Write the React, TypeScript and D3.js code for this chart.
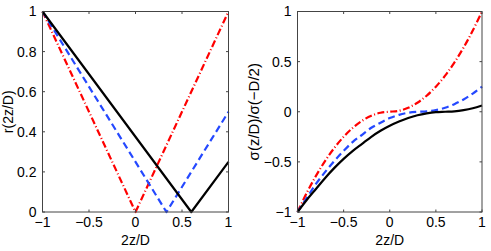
import React from "react";
import * as d3 from "d3";

// ---------- data ----------
const xTicks = [-1, -0.5, 0, 0.5, 1];
const leftYTicks = [0, 0.2, 0.4, 0.6, 0.8, 1];
const rightYTicks = [-1, -0.5, 0, 0.5, 1];

// left panel: r(2z/D), V-shaped curves (x, y vertices)
const leftBlackX = [-1, 0.6, 1];
const leftBlackY = [1, 0, 0.25];
const leftBlueX = [-1, 0.333, 1];
const leftBlueY = [1, 0, 0.5];
const leftRedX = [-1, 0, 1];
const leftRedY = [1, 0, 1];

// right panel: sigma(z/D)/sigma(-D/2), sampled
const rightX = [-1, -0.9, -0.8, -0.7, -0.6, -0.5, -0.4, -0.3, -0.2, -0.1, 0, 0.1, 0.2, 0.3, 0.4, 0.5, 0.6, 0.7, 0.8, 0.9, 1];
const rightBlack = [-1, -0.88, -0.77, -0.66, -0.56, -0.47, -0.39, -0.32, -0.25, -0.19, -0.14, -0.098, -0.063, -0.035, -0.016, -0.004, 0, 0.004, 0.016, 0.035, 0.063];
const rightBlue = [-1, -0.86, -0.72, -0.6, -0.49, -0.39, -0.3, -0.23, -0.16, -0.11, -0.063, -0.031, -0.01, -0.001, 0.003, 0.016, 0.04, 0.076, 0.123, 0.181, 0.25];
const rightRed = [-1, -0.81, -0.64, -0.49, -0.36, -0.25, -0.16, -0.09, -0.04, -0.01, 0, 0.01, 0.04, 0.09, 0.16, 0.25, 0.36, 0.49, 0.64, 0.81, 1];

const FONT = "'Liberation Sans', Arial, Helvetica, sans-serif";
const BLACK = "#000";
const BLUE = "#2448ff";
const RED = "#ff0000";

type Series = { xs: number[]; ys: number[]; color: string; dash?: string; curve: boolean };

const fmt = (v: number) => String(v).replace("-", "\u2212");

function Panel(props: {
  left: number;
  right: number;
  top: number;
  bottom: number;
  yDomain: [number, number];
  yTicks: number[];
  yLabel: string;
  yLabelX: number;
  yLabelSize: number;
  series: Series[];
}) {
  const { left, right, top, bottom, yDomain, yTicks, yLabel, yLabelX, yLabelSize, series } = props;
  const x = d3.scaleLinear().domain([-1, 1]).range([left, right]);
  const y = d3.scaleLinear().domain(yDomain).range([bottom, top]);
  const tl = 2.5;
  const axisColor = "#444";
  return (
    <g>
      {series.map((s, i) => {
        const pts = s.xs.map((v, k) => [v, s.ys[k]] as [number, number]);
        const line = d3
          .line<[number, number]>()
          .x((d) => x(d[0]))
          .y((d) => y(d[1]))
          .curve(s.curve ? d3.curveCatmullRom : d3.curveLinear);
        return (
          <path
            key={i}
            d={line(pts) || ""}
            fill="none"
            stroke={s.color}
            strokeWidth={2.2}
            strokeDasharray={s.dash}
            strokeLinejoin="round"
          />
        );
      })}
      <rect x={left} y={top} width={right - left} height={bottom - top} fill="none" stroke={axisColor} strokeWidth={1} />
      {xTicks.map((t, i) => (
        <g key={"x" + i}>
          <line x1={x(t)} x2={x(t)} y1={bottom} y2={bottom - tl} stroke={axisColor} />
          <line x1={x(t)} x2={x(t)} y1={top} y2={top + tl} stroke={axisColor} />
          <text x={x(t)} y={bottom + 15} textAnchor="middle" fontSize={14} fontFamily={FONT} fill="#000">
            {fmt(t)}
          </text>
        </g>
      ))}
      {yTicks.map((t, i) => (
        <g key={"y" + i}>
          <line x1={left} x2={left + tl} y1={y(t)} y2={y(t)} stroke={axisColor} />
          <line x1={right} x2={right - tl} y1={y(t)} y2={y(t)} stroke={axisColor} />
          <text x={left - 6} y={y(t)} dy="0.35em" textAnchor="end" fontSize={14} fontFamily={FONT} fill="#000">
            {fmt(t)}
          </text>
        </g>
      ))}
      <text x={(left + right) / 2} y={245} textAnchor="middle" fontSize={14} fontFamily={FONT} fill="#000">
        2z/D
      </text>
      <text
        transform={`translate(${yLabelX},${(top + bottom) / 2}) rotate(-90)`}
        dy="0.35em"
        textAnchor="middle"
        fontSize={yLabelSize}
        fontFamily={FONT}
        fill="#000"
      >
        {yLabel}
      </text>
    </g>
  );
}

export default function App() {
  const top = 11.5;
  const bottom = 212;
  const leftSeries: Series[] = [
    { xs: leftRedX, ys: leftRedY, color: RED, dash: "7,2.5,1,2.5", curve: false },
    { xs: leftBlueX, ys: leftBlueY, color: BLUE, dash: "7,4", curve: false },
    { xs: leftBlackX, ys: leftBlackY, color: BLACK, curve: false },
  ];
  const rightSeries: Series[] = [
    { xs: rightX, ys: rightRed, color: RED, dash: "7,2.5,1,2.5", curve: true },
    { xs: rightX, ys: rightBlue, color: BLUE, dash: "7,4", curve: true },
    { xs: rightX, ys: rightBlack, color: BLACK, curve: true },
  ];
  return (
    <svg
      width={491}
      height={251}
      style={{ position: "fixed", left: 0, top: 0, background: "#fff" }}
    >
      <rect x={0} y={0} width={491} height={251} fill="#fff" />
      <Panel
        left={42.5}
        right={228.5}
        top={top}
        bottom={bottom}
        yDomain={[0, 1]}
        yTicks={leftYTicks}
        yLabel="r(2z/D)"
        yLabelX={8.5}
        yLabelSize={14}
        series={leftSeries}
      />
      <Panel
        left={297.5}
        right={482}
        top={top}
        bottom={bottom}
        yDomain={[-1, 1]}
        yTicks={rightYTicks}
        yLabel="σ(z/D)/σ(−D/2)"
        yLabelX={253.5}
        yLabelSize={15}
        series={rightSeries}
      />
    </svg>
  );
}
